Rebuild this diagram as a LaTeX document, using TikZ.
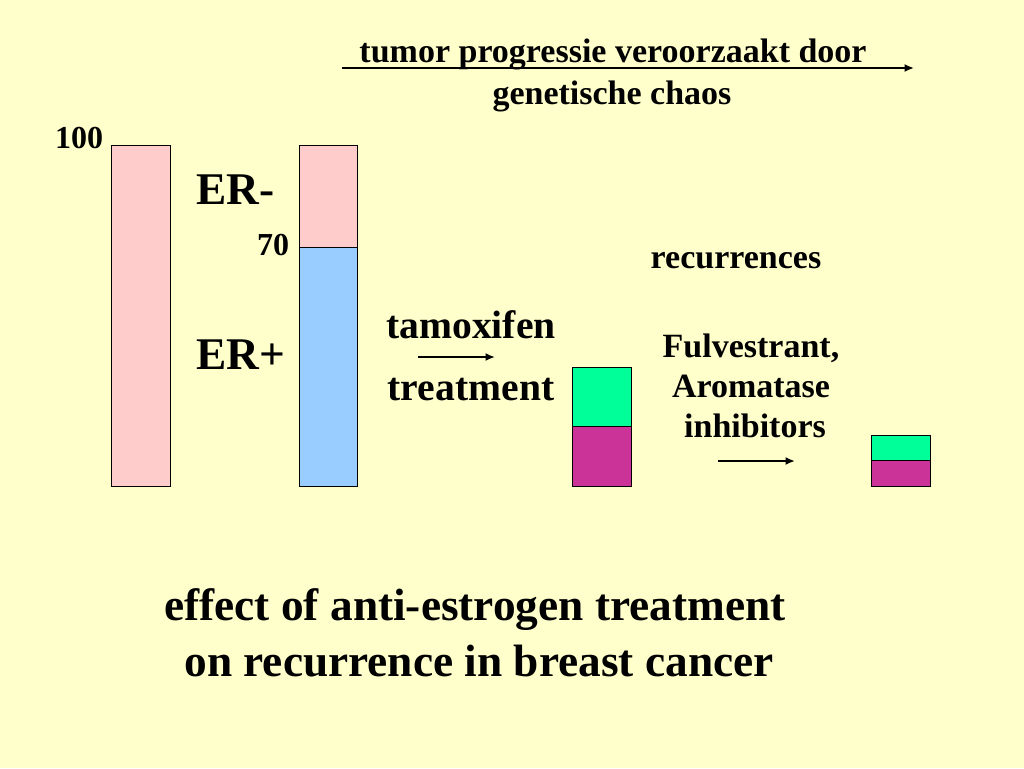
\documentclass[tikz,border=0pt]{standalone}
\usepackage{fontspec}
\setmainfont{Liberation Serif}
\usetikzlibrary{arrows.meta}
\definecolor{bgyellow}{RGB}{255,255,204}
\definecolor{erneg}{RGB}{255,204,204}
\definecolor{erpos}{RGB}{153,204,255}
\definecolor{recgreen}{RGB}{0,255,153}
\definecolor{recmag}{RGB}{204,51,153}
\tikzset{
  lbl/.style={font=\bfseries\fontsize{25.5}{29}\selectfont, anchor=base, inner sep=0pt},
  mid/.style={font=\bfseries\fontsize{24}{28}\selectfont, anchor=base, inner sep=0pt},
  big/.style={font=\bfseries\fontsize{29.7}{34}\selectfont, anchor=base, inner sep=0pt},
  huge/.style={font=\bfseries\fontsize{34}{38}\selectfont, anchor=base, inner sep=0pt},
  bar/.style={draw=black, line width=0.6pt},
  arr/.style={-{Latex[length=7pt, width=6pt]}, line width=1.8pt}
}
\begin{document}
\begin{tikzpicture}[x=0.75pt, y=-0.75pt]
    \fill [bgyellow] (0, 0) rectangle (1024, 768);
    \useasboundingbox (0, 0) rectangle (1024, 768);
    % title arrow
    \node [lbl] (title1) at (613, 62) {tumor progressie veroorzaakt door};
    \node [lbl] (title2) at (612, 104) {genetische chaos};
    \coordinate (t0) at (342, 68);
    \coordinate (t1) at (914, 68);
    \draw [arr] (t0) to (t1);
    % all tumors
    \filldraw [bar, fill=erneg] (111, 145) rectangle (170, 486);
    \node [mid] (hundred) at (79, 148) {100};
    \node [huge, anchor=base west] (erneg) at (196, 204) {ER-};
    \node [huge, anchor=base west] (erpos) at (196, 369) {ER+};
    % ER- / ER+ split
    \filldraw [bar, fill=erneg] (299, 145) rectangle (357, 247);
    \filldraw [bar, fill=erpos] (299, 247) rectangle (357, 486);
    \node [mid] (seventy) at (273, 255) {70};
    % tamoxifen
    \node [big] (tam) at (471, 338) {tamoxifen};
    \node [big] (treat) at (471, 400) {treatment};
    \coordinate (a0) at (418, 357);
    \coordinate (a1) at (495, 357);
    \draw [arr] (a0) to (a1);
    \filldraw [bar, fill=recgreen] (572, 367) rectangle (631, 426);
    \filldraw [bar, fill=recmag] (572, 426) rectangle (631, 486);
    % second line
    \node [lbl] (recur) at (736, 268) {recurrences};
    \node [lbl] (fulv) at (751, 357) {Fulvestrant,};
    \node [lbl] (arom) at (751, 397) {Aromatase};
    \node [lbl] (inhib) at (755, 437) {inhibitors};
    \coordinate (b0) at (718, 461);
    \coordinate (b1) at (795, 461);
    \draw [arr] (b0) to (b1);
    \filldraw [bar, fill=recgreen] (871, 435) rectangle (930, 460);
    \filldraw [bar, fill=recmag] (871, 460) rectangle (930, 486);
    % caption
    \node [huge] (cap1) at (475, 620) {effect of anti-estrogen treatment};
    \node [huge] (cap2) at (479, 676) {on recurrence in breast cancer};
\end{tikzpicture}
\end{document}
